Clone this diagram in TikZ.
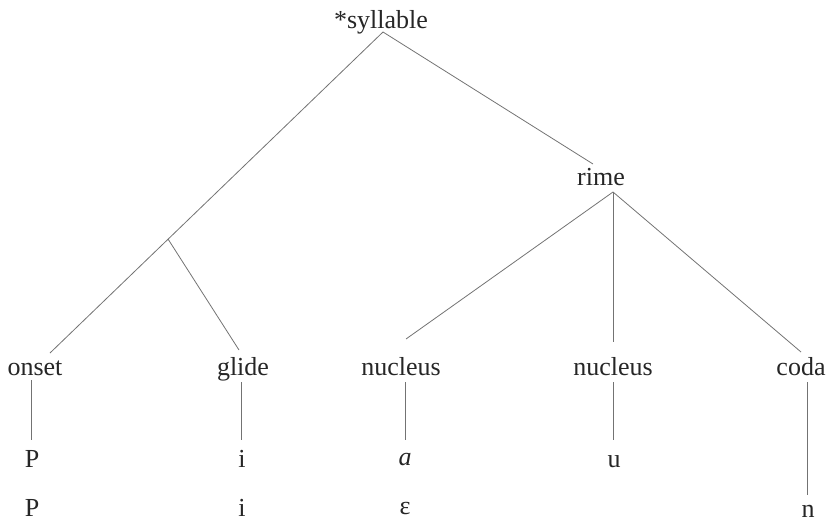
\documentclass[tikz,border=0pt]{standalone}
\usepackage{fontspec}
\setmainfont{Liberation Serif}
\begin{document}
\begin{tikzpicture}[x=1pt,y=-1pt,
  lbl/.style={anchor=base,inner sep=0pt,font=\fontsize{26}{30}\selectfont,text=black!85},
  br/.style={draw=black!55,line width=0.8pt}]
\useasboundingbox (0,0) rectangle (827,522);
% labels
\node[lbl] (syl) at (381,28) {*syllable};
\node[lbl] (rime) at (601,185) {rime};
\node[lbl] (onset) at (35,375) {onset};
\node[lbl] (glide) at (243,375) {glide};
\node[lbl] (nuc1) at (401,375) {nucleus};
\node[lbl] (nuc2) at (613,375) {nucleus};
\node[lbl] (coda) at (801,375) {coda};
\node[lbl] (p1) at (32,467) {P};
\node[lbl] (p2) at (32,516) {P};
\node[lbl] (i1) at (242,467) {i};
\node[lbl] (i2) at (242,516) {i};
\node[lbl] (a1) at (405,465) {\itshape a};
\node[lbl] (e1) at (405,514) {ε};
\node[lbl] (u1) at (614,467) {u};
\node[lbl] (n1) at (808,517) {n};
% connector ends
\coordinate (sylB) at (383,32);
\coordinate (onsT) at (50,353);
\coordinate (brp) at (168,239);
\coordinate (gliT) at (239,350);
\coordinate (rimT) at (593,164);
\coordinate (rimB) at (613,192);
\coordinate (nu1T) at (406,339);
\coordinate (nu2T) at (613,342);
\coordinate (codT) at (801,352);
\coordinate (onsB) at (31,380);
\coordinate (pT) at (31,440);
\coordinate (gliB) at (241,382);
\coordinate (iT) at (241,440);
\coordinate (nu1B) at (405,382);
\coordinate (aT) at (405,440);
\coordinate (nu2B) at (613,382);
\coordinate (uT) at (613,440);
\coordinate (codB) at (807,382);
\coordinate (nT) at (807,495);
% branches
\draw[br] (sylB) -- (onsT);
\draw[br] (brp) -- (gliT);
\draw[br] (sylB) -- (rimT);
\draw[br] (rimB) -- (nu1T);
\draw[br] (rimB) -- (nu2T);
\draw[br] (rimB) -- (codT);
\draw[br] (onsB) -- (pT);
\draw[br] (gliB) -- (iT);
\draw[br] (nu1B) -- (aT);
\draw[br] (nu2B) -- (uT);
\draw[br] (codB) -- (nT);
\end{tikzpicture}
\end{document}
